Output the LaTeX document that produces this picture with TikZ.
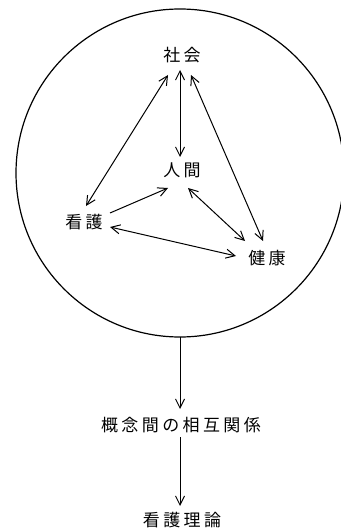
\documentclass[tikz,border=0pt]{standalone}
\usepackage{fontspec}
\newfontfamily\cjk[LetterSpace=20]{Noto Sans CJK JP}
\usetikzlibrary{arrows.meta,calc}
\begin{document}
\begin{tikzpicture}[x=1pt,y=-1pt,
  lbl/.style={font=\cjk\fontsize{17}{17}\selectfont, inner sep=0pt},
  ar/.style={line width=1pt, -{Straight Barb[length=9pt,width=9pt]}},
  dar/.style={line width=1pt, {Straight Barb[length=9pt,width=9pt]}-{Straight Barb[length=9pt,width=9pt]}}]
\useasboundingbox (0,0) rectangle (340,529);
\draw[line width=1.2pt] (180,173) circle[radius=164];
\coordinate (cbot) at (180,337);
\node[lbl] (shakai) at (182,55) {社会};
\node[lbl] (ningen) at (182,170) {人間};
\node[lbl] (kango) at (84,222) {看護};
\node[lbl] (kenko) at (267,258) {健康};
\node[lbl] (gainen) at (181,425) {概念間の相互関係};
\node[lbl] (riron) at (182,520) {看護理論};
\draw[dar] ($(shakai)+(-2,15)$) -- ($(ningen)+(-2,-13)$);
\draw[dar] ($(shakai)+(-14,20)$) -- ($(kango)+(2,-16)$);
\draw[dar] ($(shakai)+(9,20)$) -- ($(kenko)+(-4,-17)$);
\draw[ar] ($(kango)+(26,-9)$) -- ($(ningen)+(-14,18)$);
\draw[dar] ($(ningen)+(6,18)$) -- ($(kenko)+(-22,-17)$);
\draw[dar] ($(kango)+(26,5)$) -- ($(kenko)+(-31,-2)$);
\draw[ar] (cbot) -- ($(gainen)+(-1,-16)$);
\draw[ar] ($(gainen)+(-1,12)$) -- ($(riron)+(-2,-14)$);
\end{tikzpicture}
\end{document}
